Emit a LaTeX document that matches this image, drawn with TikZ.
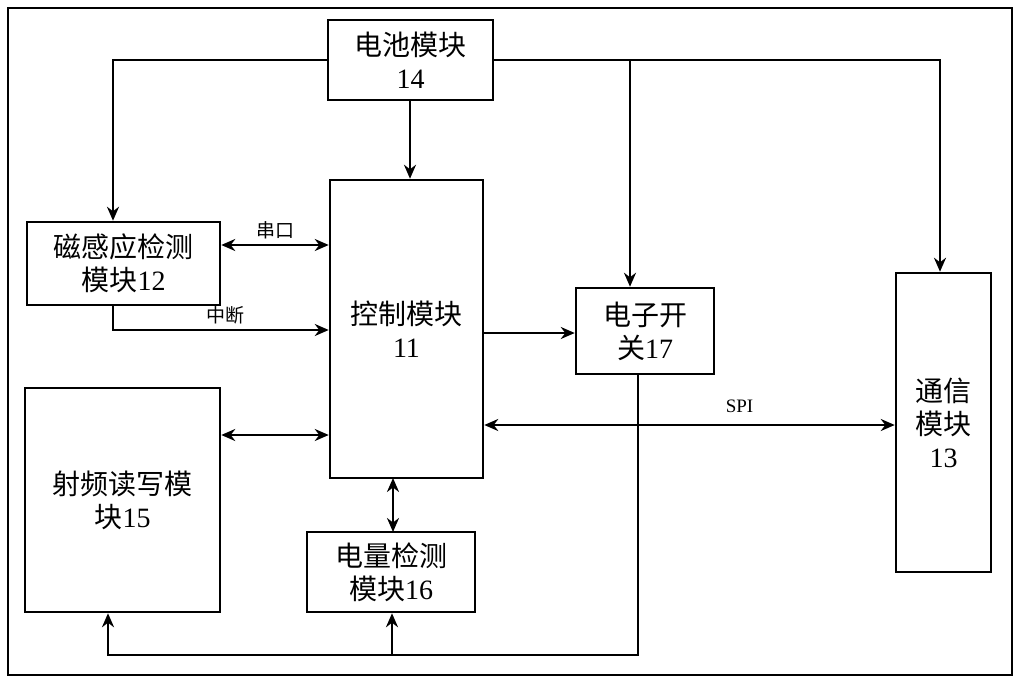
\documentclass[tikz,border=0pt]{standalone}
\usepackage{fontspec}
\setmainfont{Liberation Serif}
\newfontfamily\cjk{Noto Sans CJK SC}
\usetikzlibrary{arrows.meta}
\begin{document}
\begin{tikzpicture}[x=1pt,y=-1pt,
 box/.style={draw,line width=2.5pt,inner sep=0pt,align=center,font=\fontsize{28}{33}\selectfont},
 ln/.style={line width=2.5pt},
 arr/.style={ln,-{Stealth[length=14pt,width=12pt]}},
 barr/.style={ln,{Stealth[length=14pt,width=12pt]}-{Stealth[length=14pt,width=12pt]}},
 lab/.style={font=\fontsize{19}{21}\selectfont}]
\useasboundingbox (0,0) rectangle (1020,682);
\draw[line width=2pt] (8,8) rectangle (1012,675);
\node[box,minimum width=165pt,minimum height=80pt] (bat) at (410.5,60) {{\cjk 电池模块}\\14};
\node[box,minimum width=153pt,minimum height=298pt] (ctl) at (406.5,329) {{\cjk 控制模块}\\11};
\node[box,minimum width=193pt,minimum height=83pt] (mag) at (123.5,263.5) {{\cjk 磁感应检测}\\{\cjk 模块}12};
\node[box,minimum width=195pt,minimum height=224pt] (rf) at (122.5,500) {{\cjk 射频读写模}\\{\cjk 块}15};
\node[box,minimum width=168pt,minimum height=80pt] (pwr) at (391,572) {{\cjk 电量检测}\\{\cjk 模块}16};
\node[box,minimum width=138pt,minimum height=86pt] (sw) at (645,331) {{\cjk 电子开}\\{\cjk 关}17};
\node[box,minimum width=95pt,minimum height=299pt] (com) at (943.5,422.5) {{\cjk 通信}\\{\cjk 模块}\\13};
\coordinate (jl) at (113,60);
\coordinate (jr) at (940,60);
\coordinate (js) at (630,60);
\coordinate (jb) at (410,100);
\draw[arr] (bat.west) -- (jl) -- (mag.north -| jl);
\draw[arr] (bat.east) -- (jr) -- (com.north -| jr);
\draw[arr] (js) -- (sw.north -| js);
\draw[arr] (jb) -- (ctl.north -| jb);
\draw[barr] (mag.east |- 0,245) -- node[lab,above=1pt]{\cjk 串口} (ctl.west |- 0,245);
\coordinate (ib) at (113,330);
\draw[arr] (mag.south -| ib) -- (ib) -- node[lab,above=1pt,xshift=5pt]{\cjk 中断} (ctl.west |- ib);
\draw[arr] (ctl.east |- 0,333) -- (sw.west |- 0,333);
\draw[barr] (rf.east |- 0,435) -- (ctl.west |- 0,435);
\draw[barr] (ctl.east |- 0,425) -- node[lab,above=8pt,xshift=50pt]{SPI} (com.west |- 0,425);
\draw[barr] (393,478) -- (393,532);
\coordinate (d1) at (638,655);
\coordinate (d2) at (108,655);
\coordinate (d3) at (392,655);
\draw[arr] (sw.south -| d1) -- (d1) -- (d2) -- (rf.south -| d2);
\draw[arr] (d3) -- (pwr.south -| d3);
\end{tikzpicture}
\end{document}
